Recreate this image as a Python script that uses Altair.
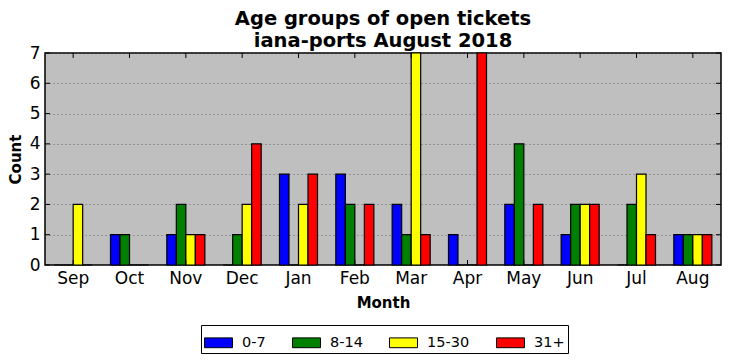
import altair as alt
import pandas as pd

months = ["Sep", "Oct", "Nov", "Dec", "Jan", "Feb", "Mar", "Apr", "May", "Jun", "Jul", "Aug"]
groups = ["0-7", "8-14", "15-30", "31+"]
colors = ["#0000ff", "#008000", "#ffff00", "#ff0000"]
v_0_7 = [0, 1, 1, 0, 3, 3, 2, 1, 2, 1, 0, 1]
v_8_14 = [0, 1, 2, 1, 0, 2, 1, 0, 4, 2, 2, 1]
v_15_30 = [2, 0, 1, 2, 2, 0, 7, 0, 0, 2, 3, 1]
v_31p = [0, 0, 1, 4, 3, 2, 1, 7, 2, 2, 1, 1]
y_ticks = [0, 1, 2, 3, 4, 5, 6, 7]

rows = []
for g, vals in zip(groups, [v_0_7, v_8_14, v_15_30, v_31p]):
    for m, v in zip(months, vals):
        rows.append({"Month": m, "Group": g, "Count": v})
df = pd.DataFrame(rows)
mdf = pd.DataFrame({"Month": months})
ydf = pd.DataFrame({"Count": y_ticks})

W, H = 676, 212
FONT = "DejaVu Sans"

xscale = alt.Scale(domain=months, paddingInner=0.325, paddingOuter=0.1625)
yscale = alt.Scale(domain=[0, 7], nice=False)

xaxis = alt.Axis(title="Month", labelAngle=0, labelFontSize=17, labelColor="black",
                 titleFontSize=15, titleFontWeight="bold", titleColor="black",
                 tickSize=0, labelPadding=5, domain=False, titlePadding=9,
                 labelFont=FONT, titleFont=FONT)
yaxis = alt.Axis(title="Count", values=y_ticks, format="d", labelFontSize=17,
                 labelColor="black",
                 titleFontSize=15, titleFontWeight="bold", titleColor="black",
                 tickSize=0, labelPadding=5, domain=False, titlePadding=6,
                 labelOverlap=False, labelBound=False, tickMinStep=1,
                 grid=True, gridColor="#555555", gridDash=[1, 3], gridWidth=0.8,
                 labelFont=FONT, titleFont=FONT)

bars = alt.Chart(df).mark_bar(stroke="black", strokeWidth=1.2).encode(
    x=alt.X("Month:N", scale=xscale, sort=months, axis=xaxis),
    xOffset=alt.XOffset("Group:N", sort=groups, scale=alt.Scale(domain=groups, paddingInner=0, paddingOuter=0)),
    y=alt.Y("Count:Q", scale=yscale, axis=yaxis),
    color=alt.Color("Group:N", sort=groups, scale=alt.Scale(domain=groups, range=colors),
                    legend=alt.Legend(title=None, orient="none", legendX=156, legendY=272,
                                      direction="horizontal",
                                      columns=4, strokeColor="black", padding=3,
                                      symbolType="M-1,-0.35L1,-0.35L1,0.35L-1,0.35Z",
                                      symbolSize=784, symbolStrokeColor="black", symbolStrokeWidth=1,
                                      labelFontSize=14.5, labelFont=FONT, labelColor="black",
                                      labelOffset=9, columnPadding=24, symbolOffset=0,
                                      fillColor="white", cornerRadius=0)),
)

top_ticks = alt.Chart(mdf).mark_rule(color="black", strokeWidth=1).encode(
    x=alt.X("Month:N", scale=xscale, sort=months, axis=xaxis), y=alt.value(0), y2=alt.value(5))
bot_ticks = alt.Chart(mdf).mark_rule(color="black", strokeWidth=1).encode(
    x=alt.X("Month:N", scale=xscale, sort=months, axis=xaxis), y=alt.value(H - 5), y2=alt.value(H))
left_ticks = alt.Chart(ydf).mark_rule(color="black", strokeWidth=1).encode(
    y=alt.Y("Count:Q", scale=yscale, axis=yaxis), x=alt.value(0), x2=alt.value(5))
right_ticks = alt.Chart(ydf).mark_rule(color="black", strokeWidth=1).encode(
    y=alt.Y("Count:Q", scale=yscale, axis=yaxis), x=alt.value(W - 5), x2=alt.value(W))

chart = alt.layer(bars, top_ticks, bot_ticks, left_ticks, right_ticks).properties(
    width=W, height=H,
    title=alt.Title(["Age groups of open tickets", "iana-ports August 2018"],
                    fontSize=19.5, fontWeight="bold", font=FONT, color="black",
                    anchor="middle", offset=-7, lineHeight=22),
).configure(
    background="white", padding={"left": 0, "top": 0, "right": 2, "bottom": 0}
).configure_view(fill="#bfbfbf", stroke="black", strokeWidth=1.5
).configure_axis(labelOverlap=False)

chart.save("out.html", embed_options={"renderer": "svg", "actions": False})
